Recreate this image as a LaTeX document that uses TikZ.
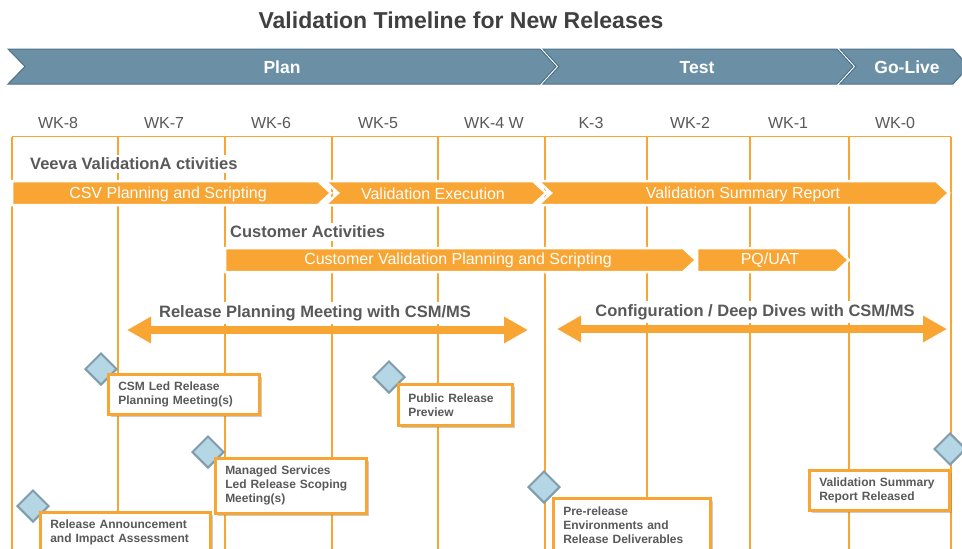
\documentclass[tikz,border=0pt]{standalone}
\usepackage{fontspec}
\setmainfont{Liberation Sans}
\usetikzlibrary{arrows.meta,shapes.geometric,shadows}
\definecolor{orng}{HTML}{F8A533}
\definecolor{bnr}{HTML}{6B90A6}
\definecolor{bnrline}{HTML}{4E7388}
\definecolor{txtgray}{HTML}{595959}
\definecolor{ttlgray}{HTML}{404040}
\definecolor{dmfill}{HTML}{B5D6E4}
\definecolor{dmline}{HTML}{7F9DAD}
\begin{document}
\begin{tikzpicture}[x=1pt,y=-1pt,
  ttl/.style={font=\bfseries\fontsize{23}{27}\selectfont, text=ttlgray},
  wk/.style={font=\fontsize{16}{19}\selectfont, text=txtgray},
  phase/.style={font=\bfseries\fontsize{17.5}{20}\selectfont, text=white},
  banner/.style={fill=bnr, draw=bnrline, line width=1pt},
  bar/.style={fill=orng, draw=white, line width=2.5pt},
  bartext/.style={font=\fontsize{16}{19}\selectfont, text=white},
  head/.style={font=\bfseries\fontsize{16.5}{19}\selectfont, text=txtgray, fill=white, inner sep=3pt},
  grid/.style={draw=orng, line width=1.6pt},
  dbl/.style={draw=orng, line width=8pt, {Triangle[length=24pt,width=25pt]}-{Triangle[length=24pt,width=25pt]}},
  ms/.style={diamond, draw=dmline, fill=dmfill, line width=2pt, minimum width=32pt, minimum height=32pt, inner sep=0pt},
  box/.style={draw=orng, line width=2.5pt, fill=white, align=left, anchor=north west, inner xsep=10pt, inner ysep=0pt,
    font=\bfseries\fontsize{12}{14}\selectfont, text=txtgray,
    drop shadow={shadow xshift=2.5pt, shadow yshift=-2.5pt, opacity=0.4, fill=black!50}}
]
\clip (0,0) rectangle (962,549);
\fill[white] (0,0) rectangle (962,549);

% title
\node[ttl] (title) at (461,20) {Validation Timeline for New Releases};

% phase banner
\path[banner] (8,49) -- (540,49) -- (556,66.5) -- (540,84) -- (8,84) -- (25,66.5) -- cycle;
\path[banner] (543,49) -- (837,49) -- (853,66.5) -- (837,84) -- (543,84) -- (559,66.5) -- cycle;
\path[banner] (840,49) -- (953,49) -- (969,66.5) -- (953,84) -- (840,84) -- (856,66.5) -- cycle;
\node[phase] (plan) at (282,67.5) {Plan};
\node[phase] (test) at (697,67.5) {Test};
\node[phase] (golive) at (907,67.5) {Go-Live};

% week labels
\node[wk] (w8) at (58,123) {WK-8};
\node[wk] (w7) at (164,123) {WK-7};
\node[wk] (w6) at (271,123) {WK-6};
\node[wk] (w5) at (378,123) {WK-5};
\node[wk] (w4) at (494,123) {WK-4 W};
\node[wk] (w3) at (591,123) {K-3};
\node[wk] (w2) at (690,123) {WK-2};
\node[wk] (w1) at (788,123) {WK-1};
\node[wk] (w0) at (895,123) {WK-0};

% grid
\draw[grid] (12,136.5) -- (951,136.5);
\foreach \gx in {12,118,225,332,438,545,647,750,849,951}
  \draw[grid] (\gx,136.5) -- (\gx,552);

% Veeva activities
\node[head, anchor=west] (veeva) at (27,164) {Veeva ValidationA ctivities};
\path[bar] (12,181) -- (318,181) -- (331,193) -- (318,205) -- (12,205) -- cycle;
\path[bar] (325,181) -- (533,181) -- (546,193) -- (533,205) -- (325,205) -- (338,193) -- cycle;
\path[bar] (538,181) -- (936,181) -- (949,193) -- (936,205) -- (538,205) -- (551,193) -- cycle;
\node[bartext] (csv) at (168,194) {CSV Planning and Scripting};
\node[bartext] (vexec) at (433,194) {Validation Execution};
\node[bartext] (vsr) at (743,194) {Validation Summary Report};

% Customer activities
\node[head, anchor=west] (cust) at (227,232) {Customer Activities};
\path[bar] (225,248) -- (683,248) -- (696,260) -- (683,272) -- (225,272) -- cycle;
\path[bar] (697,248) -- (836,248) -- (849,260) -- (836,272) -- (697,272) -- cycle;
\node[bartext] (cvps) at (458,260) {Customer Validation Planning and Scripting};
\node[bartext] (pquat) at (770,260) {PQ/UAT};

% double arrows
\node[head] (rpm) at (315,313) {Release Planning Meeting with CSM/MS};
\node[head] (cfg) at (755,312) {Configuration / Deep Dives with CSM/MS};
\coordinate (rpmL) at (127,330);
\coordinate (rpmR) at (528,330);
\coordinate (cfgL) at (557,329);
\coordinate (cfgR) at (947,329);
\draw[dbl] (rpmL) -- (rpmR);
\draw[dbl] (cfgL) -- (cfgR);

% milestones
\node[ms] (d1) at (101,369) {};
\node[ms] (d2) at (389,377) {};
\node[ms] (d3) at (208,452) {};
\node[ms] (d4) at (33,506) {};
\node[ms] (d5) at (544,487) {};
\node[ms] (d6) at (950,449) {};

\node[box, text width=131pt, minimum height=40pt] (b1) at (107,373) {CSM Led Release\\Planning Meeting(s)};
\node[box, text width=94pt, minimum height=41pt] (b2) at (397,383) {Public Release\\Preview};
\node[box, text width=131pt, minimum height=55pt] (b3) at (214,457) {Managed Services\\Led Release Scoping\\Meeting(s)};
\node[box, text width=150pt, minimum height=40pt] (b4) at (39,511) {Release Announcement\\and Impact Assessment};
\node[box, text width=137pt, minimum height=53pt] (b5) at (552,497) {Pre-release\\Environments and\\Release Deliverables};
\node[box, text width=120pt, minimum height=40pt] (b6) at (808,469) {Validation Summary\\Report Released};
\end{tikzpicture}
\end{document}
